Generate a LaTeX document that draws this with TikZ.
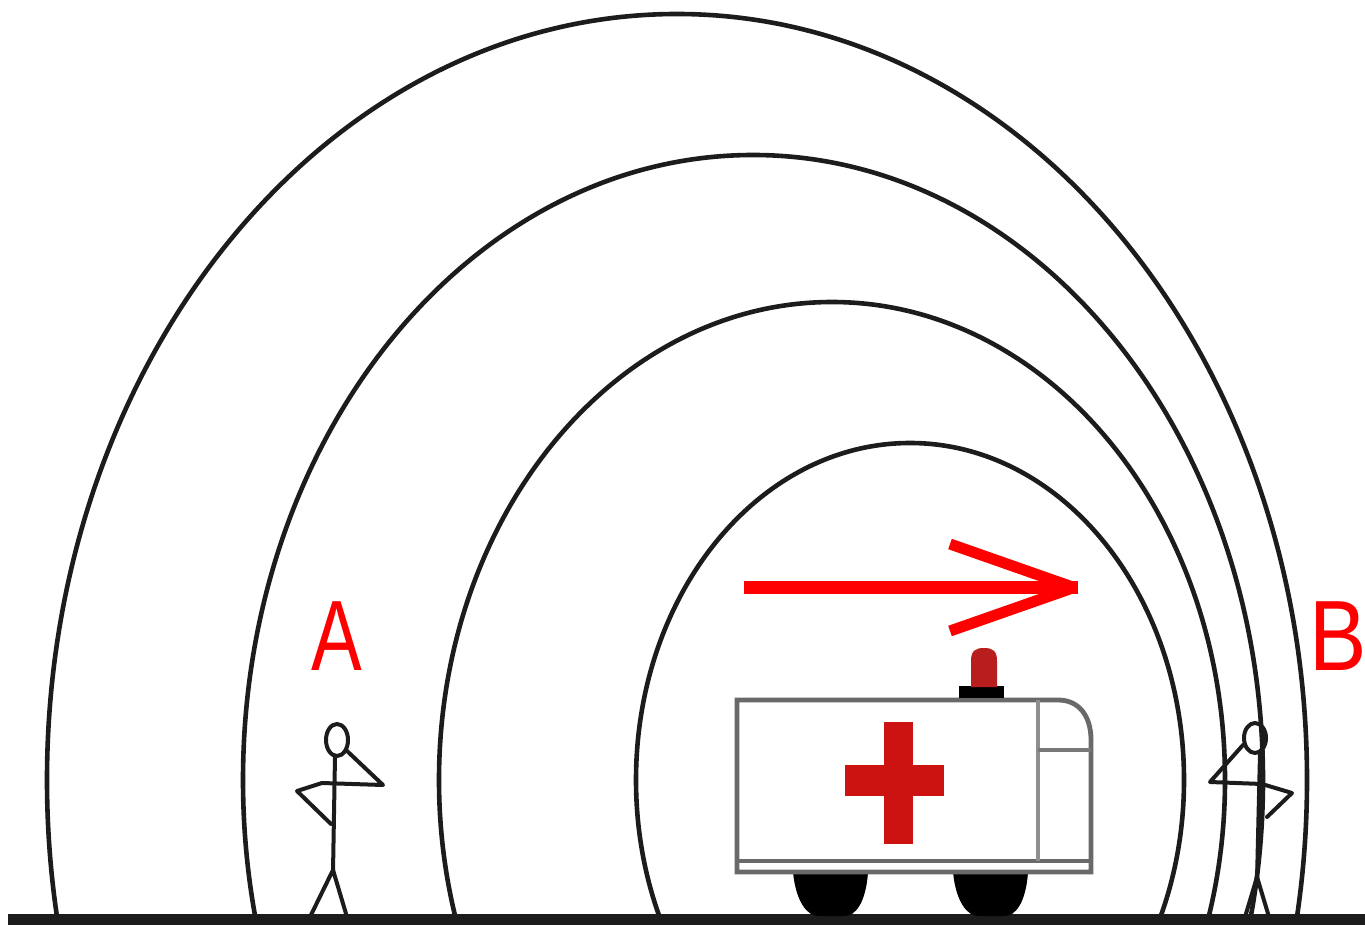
\documentclass[tikz,border=0pt]{standalone}
\usepackage{fontspec}
\usepackage{graphicx}
\newfontfamily\lblfont{Liberation Sans}
\definecolor{ink}{RGB}{28,28,28}
\definecolor{bodyline}{RGB}{105,105,105}
\definecolor{crossred}{RGB}{205,18,18}
\definecolor{sirenred}{RGB}{185,30,30}
\definecolor{signal}{RGB}{255,0,0}
\begin{document}
\begin{tikzpicture}[x=0.5pt,y=-0.5pt,
  wave/.style={draw=ink, line width=2.3pt},
  stick/.style={draw=ink, line width=2pt, line join=round, line cap=round},
  van/.style={draw=bodyline, line width=2.4pt},
  lbl/.style={text=signal, inner sep=0pt, font=\lblfont\fontsize{50}{50}\selectfont}]
\useasboundingbox (0,0) rectangle (1365,925);
\fill[white] (0,0) rectangle (1365,925);

% sound wave fronts, cut off at the road
\begin{scope}
  \clip (0,0) rectangle (1365,916);
  \draw[wave] (677,780) ellipse [x radius=630, y radius=766];
  \draw[wave] (753,780) ellipse [x radius=510, y radius=625];
  \draw[wave] (832,780) ellipse [x radius=393, y radius=478];
  \draw[wave] (910,780) ellipse [x radius=274, y radius=337];
\end{scope}

% road
\fill[ink] (8,914) rectangle (1365,925);

% ambulance: wheels
\fill[black] (793,872) .. controls (796,903) and (808,916) .. (818,916) -- (845,916)
  .. controls (855,916) and (866,903) .. (868,872) -- cycle;
\fill[black] (953,872) .. controls (956,903) and (968,916) .. (978,916) -- (1005,916)
  .. controls (1015,916) and (1026,903) .. (1028,872) -- cycle;
% body
\draw[van, fill=white] (737,700) -- (1058,700) .. controls (1079,700) and (1091,716) .. (1091,740)
  -- (1091,872) -- (737,872) -- cycle;
\draw[van] (737,861) -- (1091,861);
\draw[van, draw=bodyline!75] (1038,700) -- (1038,861);
\draw[van, draw=bodyline!90] (1038,750) -- (1091,750);
% red cross
\fill[crossred] (884,722) rectangle (913,844);
\fill[crossred] (845,765) rectangle (944,796);
% siren
\fill[black] (959,686) rectangle (1004,698);
\fill[sirenred] (971,687) -- (971,661) .. controls (971,651) and (975,648) .. (984,648)
  .. controls (993,648) and (997,651) .. (997,661) -- (997,687) -- cycle;

% direction of travel
\draw[signal, line width=6.5pt] (744,587.5) -- (1078,587.5);
\draw[signal, line width=5.5pt, line join=bevel] (950,544) -- (1074,587.5) -- (950,631);

% listener A
\draw[stick] (337,740) ellipse [x radius=11, y radius=16];
\draw[stick] (335,756) -- (333,872);
\draw[stick] (310,917) -- (333,870) -- (347,917);
\draw[stick] (346,750) -- (383,785) -- (322,783) -- (297,791) -- (331,824);

% listener B
\draw[stick] (1255,738) ellipse [x radius=11, y radius=15];
\draw[stick] (1260,753) -- (1257,880);
\draw[stick] (1245,917) -- (1257,877) -- (1269,917);
\draw[stick] (1243,745) -- (1210,782) -- (1262,784) -- (1292,793) -- (1267,817);

% labels
\node[lbl] (labelA) at (337,636) {\scalebox{0.76}[1]{A}};
\node[lbl] (labelB) at (1338,636) {\scalebox{0.86}[1]{B}};
\end{tikzpicture}
\end{document}
